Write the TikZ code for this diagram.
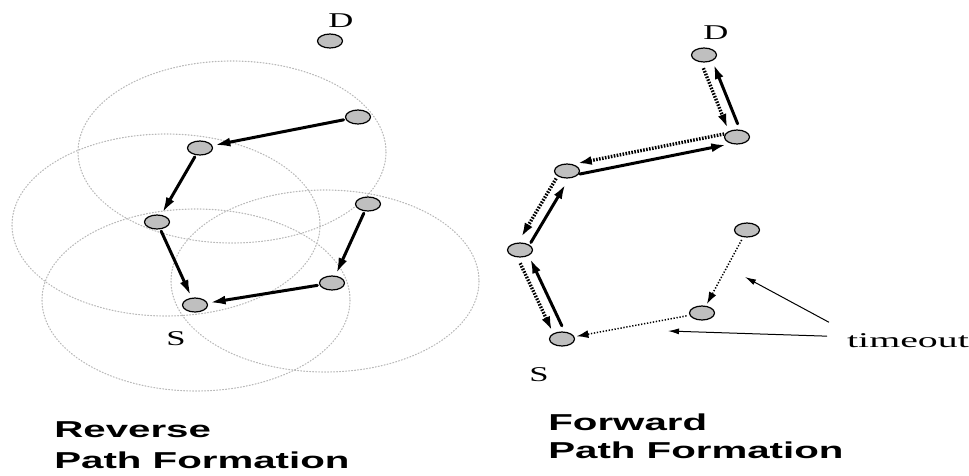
\documentclass[tikz,border=0pt]{standalone}
\usepackage{fontspec}
\setmainfont{Liberation Serif}
\newfontfamily\headfont{Liberation Sans}
\usetikzlibrary{arrows.meta,calc,shapes.geometric}

% offset of the two arrows of one hop
\def\off{5.5pt}
% probe from #1 to #2, reply back from #2 to #1, side by side
\newcommand\hop[2]{%
  \draw[probe] ($(#1)!\off!-90:(#2)$) -- ($(#2)!\off!90:(#1)$);
  \draw[reply] ($(#2)!\off!-90:(#1)$) -- ($(#1)!\off!90:(#2)$);
}

\begin{document}
\begin{tikzpicture}[x=1pt, y=-1pt, line cap=round, line join=round,
  mote/.style={ellipse, draw, line width=1.2pt, fill=gray!50,
    minimum width=25pt, minimum height=14pt, inner sep=0pt},
  reach/.style={gray!55, line width=1.1pt, dash pattern=on 1pt off 2pt},
  back/.style={line width=3pt, -{Latex[length=16pt,width=9pt]},
    shorten <=2pt, shorten >=2pt},
  reply/.style={line width=3pt, -{Latex[length=15pt,width=9pt]},
    shorten <=12pt, shorten >=12pt},
  probe/.style={line width=3.4pt, dash pattern=on 1.6pt off 1.4pt, line cap=butt,
    -{Latex[length=14pt,width=9pt]}, shorten <=12pt, shorten >=12pt},
  stale/.style={line width=1.5pt, dash pattern=on 1.3pt off 1.7pt, line cap=butt,
    -{Latex[length=12pt,width=8pt]}, shorten <=3pt, shorten >=2pt},
  pointer/.style={line width=1pt, -{Latex[length=11pt,width=6pt]}},
  lbl/.style={font=\fontsize{21}{25}\selectfont, xscale=1.65, inner sep=0pt, anchor=base},
  heading/.style={font=\headfont\bfseries\fontsize{23}{28}\selectfont,
    xscale=1.75, inner sep=0pt, anchor=base west}]

\useasboundingbox (0,0) rectangle (969,475);

% -----------------------
% Transmission ranges
% -----------------------
\foreach \cx/\cy in {232/152, 166/225, 196/300, 325/281}
  \draw[reach] (\cx,\cy) ellipse [x radius=154, y radius=91];

% -----------------------
% Reverse path formation
% -----------------------
\node[mote] (rD) at (330,41) {};
\node[mote] (rA) at (358,117) {};
\node[mote] (rB) at (200,148) {};
\node[mote] (rC) at (157,222) {};
\node[mote] (rE) at (368,204) {};
\node[mote] (rF) at (332,283) {};
\node[mote] (rS) at (195,305) {};

\draw[back] (rA) -- (rB);
\draw[back] (rB) -- (rC);
\draw[back] (rC) -- (rS);
\draw[back] (rE) -- (rF);
\draw[back] (rF) -- (rS);

\node[lbl] (rDlbl) at (341,27) {D};
\node[lbl] (rSlbl) at (176,345) {S};

% -----------------------
% Forward path formation
% -----------------------
\node[mote] (fD) at (704,55) {};
\node[mote] (f1) at (737,137) {};
\node[mote] (f2) at (567,171) {};
\node[mote] (f3) at (520,250) {};
\node[mote] (fS) at (562,339) {};
\node[mote] (t1) at (747,230) {};
\node[mote] (t2) at (702,313) {};

\hop{fD}{f1}
\hop{f1}{f2}
\hop{f2}{f3}
\hop{f3}{fS}

% expired branch
\draw[stale] (t1) -- (t2);
\draw[stale] (t2) -- (fS);

\node[lbl] (fDlbl) at (716,39) {D};
\node[lbl] (fSlbl) at (539,381) {S};

% timeout pointers
\node[lbl, xscale=1.15] (timeout) at (908,347) {timeout};
\coordinate (tip1) at (745,277);
\coordinate (tip2) at (668,331);
\draw[pointer] ($(timeout.west)+(-18,-18)$) -- (tip1);
\draw[pointer] ($(timeout.west)+(-20,-4)$) -- (tip2);

% -----------------------
% Captions
% -----------------------
\node[heading] (rev1) at (54,437) {Reverse};
\node[heading] (rev2) at (54,468) {Path Formation};
\node[heading] (fwd1) at (548,430) {Forward};
\node[heading] (fwd2) at (548,458) {Path Formation};

\end{tikzpicture}
\end{document}
